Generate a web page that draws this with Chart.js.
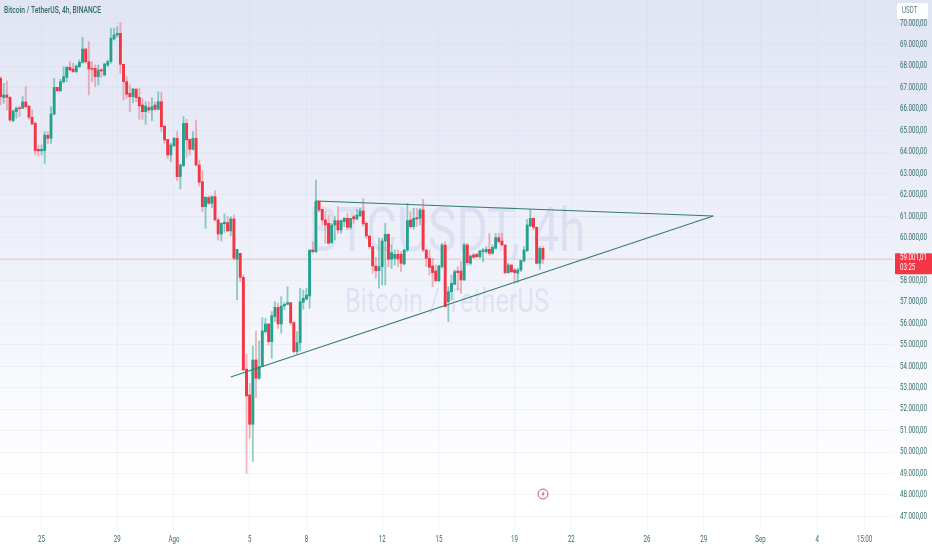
<!DOCTYPE html>
<html>
<head>
<meta charset="utf-8">
<title>Bitcoin / TetherUS, 4h, BINANCE</title>
<script src="https://cdn.jsdelivr.net/npm/chart.js@4"></script>
<style>
  html, body { margin: 0; padding: 0; width: 932px; height: 550px; overflow: hidden; }
  body { background: linear-gradient(to bottom, #e1e5f3 0%, #e8ebf6 25%, #f0f2fa 50%, #f9fafd 72%, #ffffff 88%); }
  canvas { display: block; }
</style>
</head>
<body>
<canvas id="chart" width="932" height="550"></canvas>
<script>
// 4h candles
const opens = [67443,66541,66665,66556,65468,65888,66074,66043,66339,66152,65623,65343,64131,64053,64068,64784,64644,65779,67023,66867,67287,67489,67956,67878,67754,67987,68189,68811,68220,67909,67909,67520,67831,67598,68065,68220,69278,69464,69542,68096,67287,66743,
  66587,66944,66555,66198,65887,66073,65965,66198,65996,66353,65218,64596,63865,64301,64643,62855,63368,65343,64596,64130,64643,63399,62621,61455,61875,61610,61921,60833,60180,60662,60708,60320,60880,
  58996,59276,58156,53865,52667,51299,54300,53445,53989,55622,55979,55155,56321,56757,55979,56819,56897,56975,56042,54689,55109,56990,57146,57286,
  59432,59354,61687,61329,60832,60676,59774,60598,60800,60365,60754,60909,60489,60987,60878,61034,61251,60676,60085,59588,58686,58468,58655,59852,60163,58997,59043,59230,59230,58779,59432,60832,60521,60941,60910,61298,59432,
  59043,58686,58452,58001,58655,59665,57022,57488,57830,58452,58452,58033,59665,58810,59199,59230,59121,59354,59354,59463,59276,59510,60007,59852,59665,58375,58732,58499,58344,58499,58919,59401,60552,60909,60489,58810,59510];
const closes = [66587,66665,66556,65499,65919,66043,66028,66339,66121,65623,65312,64068,64053,64131,64799,64644,65779,67023,66867,67287,67520,67956,67831,67754,68018,68189,68811,68220,67878,67862,67520,67831,67785,68111,68220,69309,69464,69542,68096,67287,66696,66587,
  66944,66540,66151,65887,66151,65965,66120,65996,66353,65187,64565,63865,64332,64643,62855,63399,65343,64565,64130,64643,63399,62590,61455,61890,61610,61921,60833,60180,60677,60724,60320,60880,59045,
  59463,58156,53833,52621,51299,54300,53445,53989,55653,55979,55155,56368,56757,55979,56819,56897,56975,56042,54689,55109,57021,57177,57332,59431,
  59354,61687,61298,60832,60598,59743,60598,60800,60365,60800,60909,60489,60909,60878,61065,61251,60645,60085,59588,58686,58468,58655,59852,60163,58997,59308,59230,59012,58810,59432,60800,60521,60910,60878,61298,59432,59043,
  58623,58375,58001,58686,59665,56789,57488,57877,58421,58375,58033,59665,58841,59152,59090,59121,59385,59432,59463,59276,59556,60007,59821,59665,58375,58732,58421,58375,58499,58934,59432,60598,60909,60489,58810,59510,59001];
const highs = [67520,67210,67318,66587,65966,66121,66121,66587,67054,66152,65966,65421,64333,64333,64955,64955,66121,67443,67023,67396,67987,67987,68220,68142,68065,68298,69355,68842,69153,68220,68065,68065,67909,68142,68298,69775,69775,69853,70040,68096,67520,67132,
  66975,66944,66975,66509,66353,66353,66540,66353,66820,66789,65218,64596,64410,64689,64954,63445,65654,65529,64596,64954,65498,63632,63134,61921,61953,61953,62201,60911,60709,61113,60988,60988,61066,
  59463,59276,58265,54564,53212,54953,55622,55186,56275,56244,55979,56555,57021,56943,57254,56975,57721,56975,56088,55622,57643,57565,57643,59431,
  59821,62698,61687,61329,61220,61065,60676,60987,61454,60832,60956,61143,60909,61065,61329,61376,61842,60754,60085,59588,59090,59976,59976,60676,60178,59665,59432,59432,59354,59463,61609,61220,61376,61376,61376,61796,59432,
  59432,59043,58732,58732,59743,59821,57721,58266,58499,58655,58888,59743,59743,59199,59277,59277,59432,59510,59587,60210,59665,60210,60210,60210,59665,58810,58732,58577,58577,58965,59587,60863,61329,60909,60521,59587,59587];
const lows = [66199,66277,65966,65421,65421,65577,65655,66043,66043,65530,65266,63866,63820,63866,63477,64410,64410,65732,66821,66821,67210,67287,67800,67707,67707,67940,68142,68142,66665,67287,67054,67132,67489,67552,67987,68142,69231,69355,67676,66432,66510,65888,
  66307,66353,65529,65529,65296,65840,65467,65965,65965,64954,64410,63710,63554,64254,62668,62279,63321,63756,63865,64099,63352,62419,61222,60444,61564,61408,60802,59900,59853,60242,60289,60087,58967,
  57099,57954,53833,49013,50646,49557,52543,53398,53989,55544,55000,54378,56088,55777,55544,56632,56866,55933,54611,54580,54720,56664,57099,56710,
  59277,59308,61220,60598,59743,59712,59743,59899,60210,60210,60520,60365,60396,60676,60832,60987,60552,59976,59510,58343,58110,57644,57799,57799,58654,58577,58733,58655,58422,58733,59354,60443,60396,60521,60599,59354,58655,
  58266,57721,57955,57955,58577,56757,56089,57100,57799,57566,57410,58001,58732,58732,59043,59074,59043,58888,59276,59199,59245,59463,59743,59634,58312,58344,58344,57877,57908,58421,58888,59354,60521,60365,58779,58530,58810];

// first candle is index 0, the 25th of July is candle 13
const tickIndexes = [13, 37, 55, 79, 97, 121, 139, 163, 181, 205, 223, 241, 259, 274];
const tickLabels = ['25', '29', 'Ago', '5', '8', '12', '15', '19', '22', '26', '29', 'Sep', '4', '15:00'];
const priceTicks = [47000,48000,49000,50000,51000,52000,53000,54000,55000,56000,57000,58000,60000,61000,62000,63000,64000,65000,66000,67000,68000,69000,70000];

// triangle drawn on the chart
const upperLineIdx = [100, 226];
const upperLinePrice = [61718, 61018];
const lowerLineIdx = [73, 226];
const lowerLinePrice = [53506, 61018];
const lastPrice = 59001.01;

const GREEN = '#26a18f';
const RED = '#f23645';
const GREEN_WICK = 'rgba(38,161,143,0.5)';
const RED_WICK = 'rgba(226,80,100,0.42)';
const TEXT = '#2f6a66';
const GRID = 'rgba(205,211,232,0.22)';
const LABEL_FONT = '8.5px Roboto';

function formatPrice(v) {
  return v.toLocaleString('de-DE', { minimumFractionDigits: 2, maximumFractionDigits: 2 });
}

const isUp = opens.map((o, i) => closes[i] >= o);

// The original labels are squeezed, canvas has no narrow font here so stretch them
function drawStretched(ctx, text, font, x, y, xScale, align) {
  ctx.save();
  ctx.font = font;
  ctx.textAlign = align;
  ctx.textBaseline = 'middle';
  ctx.translate(x, y);
  ctx.scale(xScale, 1);
  ctx.fillText(text, 0, 0);
  ctx.restore();
}

function fitScale(ctx, text, font, width) {
  ctx.save();
  ctx.font = font;
  const s = width / ctx.measureText(text).width;
  ctx.restore();
  return s;
}

// Watermark goes behind the candles
const watermark = {
  id: 'watermark',
  beforeDatasetsDraw(chart) {
    const ctx = chart.ctx;
    ctx.save();
    ctx.fillStyle = 'rgba(188,192,228,0.33)';
    const bigFont = '400 62px Roboto';
    const smallFont = '400 33px Roboto';
    drawStretched(ctx, 'BTCUSDT, 4h', bigFont, 447, 235, fitScale(ctx, 'BTCUSDT, 4h', bigFont, 277), 'center');
    drawStretched(ctx, 'Bitcoin / TetherUS', smallFont, 447, 304, fitScale(ctx, 'Bitcoin / TetherUS', smallFont, 204), 'center');
    ctx.restore();
  }
};

// Axis labels, title, currency box, last price tag and the small flash icon
const overlay = {
  id: 'overlay',
  afterDraw(chart) {
    const ctx = chart.ctx;
    const xAxis = chart.scales.x;
    const yAxis = chart.scales.y;
    const y = yAxis.getPixelForValue(lastPrice);
    const squeeze = fitScale(ctx, '70.000,00', LABEL_FONT, 27);
    ctx.save();

    ctx.fillStyle = TEXT;
    priceTicks.forEach(p => {
      drawStretched(ctx, formatPrice(p), LABEL_FONT, 900, yAxis.getPixelForValue(p), squeeze, 'left');
    });
    tickIndexes.forEach((idx, i) => {
      drawStretched(ctx, tickLabels[i], LABEL_FONT, xAxis.getPixelForValue(idx), 540, squeeze, 'center');
    });

    const titleFont = '500 9.5px Roboto';
    const title = 'Bitcoin / TetherUS, 4h, BINANCE';
    drawStretched(ctx, title, titleFont, 4, 11, fitScale(ctx, title, titleFont, 97), 'left');

    ctx.fillStyle = '#ffffff';
    ctx.beginPath();
    ctx.roundRect(897, 3, 31, 16, 2);
    ctx.fill();
    ctx.fillStyle = '#5f7a80';
    drawStretched(ctx, 'USDT', LABEL_FONT, 902, 11, squeeze, 'left');

    ctx.fillStyle = RED;
    ctx.beginPath();
    ctx.roundRect(895, y - 6, 37, 21, 1);
    ctx.fill();
    ctx.fillStyle = '#ffffff';
    drawStretched(ctx, formatPrice(lastPrice), LABEL_FONT, 900, y - 1, squeeze, 'left');
    drawStretched(ctx, '03:25', LABEL_FONT, 900, y + 9, squeeze, 'left');

    ctx.strokeStyle = '#c8596c';
    ctx.lineWidth = 1;
    ctx.beginPath();
    ctx.arc(543, 494, 5, 0, Math.PI * 2);
    ctx.stroke();
    ctx.fillStyle = '#c8596c';
    ctx.beginPath();
    ctx.moveTo(544.3, 490.6);
    ctx.lineTo(541.4, 494.6);
    ctx.lineTo(543, 494.6);
    ctx.lineTo(541.9, 497.4);
    ctx.lineTo(544.8, 493.3);
    ctx.lineTo(543.2, 493.3);
    ctx.closePath();
    ctx.fill();

    ctx.restore();
  }
};

new Chart(document.getElementById('chart').getContext('2d'), {
  type: 'bar',
  data: {
    datasets: [
      {
        type: 'line',
        data: upperLineIdx.map((x, i) => ({ x: x, y: upperLinePrice[i] })),
        borderColor: '#2e7d70',
        borderWidth: 1.1,
        pointRadius: 0,
        order: 1
      },
      {
        type: 'line',
        data: lowerLineIdx.map((x, i) => ({ x: x, y: lowerLinePrice[i] })),
        borderColor: '#2e7d70',
        borderWidth: 1.1,
        pointRadius: 0,
        order: 1
      },
      {
        // bodies
        data: opens.map((o, i) => ({ x: i, y: [o, closes[i]] })),
        backgroundColor: isUp.map(up => up ? GREEN : RED),
        barThickness: 2.3,
        grouped: false,
        order: 2
      },
      {
        // wicks
        data: opens.map((o, i) => ({ x: i, y: [lows[i], highs[i]] })),
        backgroundColor: isUp.map(up => up ? GREEN_WICK : RED_WICK),
        barThickness: 1.2,
        grouped: false,
        order: 3
      },
      {
        // light halo the screenshot has around the bodies
        data: opens.map((o, i) => ({ x: i, y: [o, closes[i]] })),
        backgroundColor: 'rgba(255,255,255,0.4)',
        barThickness: 4.4,
        grouped: false,
        order: 4
      },
      {
        // last price line
        type: 'line',
        data: [{ x: -1, y: lastPrice }, { x: 284, y: lastPrice }],
        borderColor: 'rgba(236,120,135,0.42)',
        borderWidth: 1,
        pointRadius: 0,
        order: 5
      }
    ]
  },
  options: {
    responsive: false,
    animation: false,
    layout: { padding: 0 },
    plugins: { legend: { display: false }, tooltip: { enabled: false } },
    scales: {
      x: {
        type: 'linear',
        offset: false,
        min: -0.175,
        max: 283,
        afterBuildTicks: axis => { axis.ticks = tickIndexes.map(v => ({ value: v })); },
        afterFit: axis => { axis.height = 20; },
        grid: { offset: false, color: GRID, drawTicks: false },
        border: { display: false },
        ticks: { display: false }
      },
      y: {
        position: 'right',
        min: 46365,
        max: 71097,
        afterBuildTicks: axis => { axis.ticks = priceTicks.map(v => ({ value: v })); },
        afterFit: axis => { axis.width = 39; },
        grid: { color: GRID, drawTicks: false },
        border: { display: false },
        ticks: { display: false }
      }
    }
  },
  plugins: [watermark, overlay]
});
</script>
</body>
</html>
